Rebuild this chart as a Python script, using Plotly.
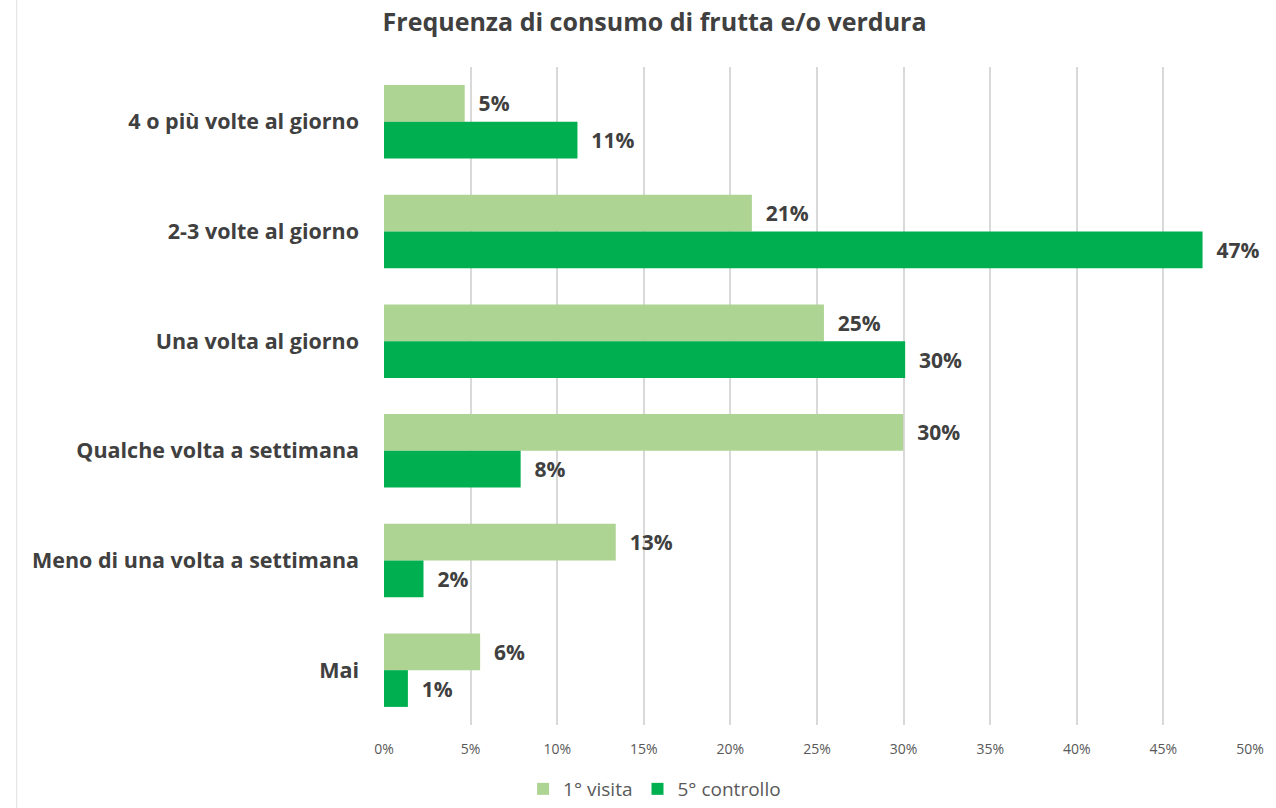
import plotly.graph_objects as go

# Frequency categories, top to bottom
categories = [
    "4 o più volte al giorno",
    "2-3 volte al giorno",
    "Una volta al giorno",
    "Qualche volta a settimana",
    "Meno di una volta a settimana",
    "Mai",
]

# Share of respondents (%) at first visit and at fifth check-up
prima_visita = [4.66, 21.24, 25.4, 29.98, 13.38, 5.55]
quinto_controllo = [11.17, 47.26, 30.09, 7.89, 2.28, 1.38]

series_names = ["1° visita", "5° controllo"]
series_colors = ["#AED494", "#00B050"]

x_ticks = list(range(0, 55, 5))

FONT = "Open Sans"
TEXT_DARK = "#404040"
TEXT_GRAY = "#595959"

fig = go.Figure()
for name, vals, color in zip(series_names, [prima_visita, quinto_controllo], series_colors):
    fig.add_trace(go.Bar(
        y=categories,
        x=vals,
        name=name,
        orientation="h",
        marker=dict(color=color, line=dict(width=0)),
        texttemplate="\u00a0\u00a0%{x:.0f}%",
        textposition="outside",
        textfont=dict(family=FONT, size=21, color=TEXT_DARK, weight="bold"),
        cliponaxis=False,
        hoverinfo="skip",
    ))

fig.update_layout(
    width=1276,
    height=808,
    barmode="group",
    bargap=0.33,
    bargroupgap=0,
    plot_bgcolor="white",
    paper_bgcolor="white",
    margin=dict(l=384, r=22, t=67, b=81),
    title=dict(
        text="<b>Frequenza di consumo di frutta e/o verdura</b>",
        x=0.513, xref="container", xanchor="center",
        y=0.972, yref="container", yanchor="middle",
        font=dict(family=FONT, size=25, color=TEXT_DARK),
    ),
    xaxis=dict(
        range=[0, 50],
        tickvals=x_ticks,
        ticktext=[f"{v}%" for v in x_ticks],
        showgrid=True,
        gridcolor="#D9D9D9",
        gridwidth=1.5,
        zeroline=False,
        showline=False,
        ticks="",
        ticklabelstandoff=14,
        tickfont=dict(family=FONT, size=14, color=TEXT_GRAY),
        fixedrange=True,
    ),
    yaxis=dict(
        autorange="reversed",
        showgrid=False,
        zeroline=False,
        showline=False,
        ticks="",
        ticklabelstandoff=24,
        tickfont=dict(family=FONT, size=21.5, color=TEXT_DARK, weight="bold"),
        fixedrange=True,
    ),
    legend=dict(
        orientation="h",
        x=0.513, xref="container", xanchor="center",
        y=0.0, yref="container", yanchor="bottom",
        font=dict(family=FONT, size=19, color=TEXT_GRAY),
        itemwidth=30,
        traceorder="normal",
        tracegroupgap=0,
    ),
    showlegend=True,
    shapes=[
        # chart area border
        dict(type="line", xref="paper", yref="paper",
             x0=(15 - 384) / 870, x1=(15 - 384) / 870, y0=-0.2, y1=1.2,
             line=dict(color="#E0E0E0", width=1)),
    ],
)

fig.write_html("out.html")
